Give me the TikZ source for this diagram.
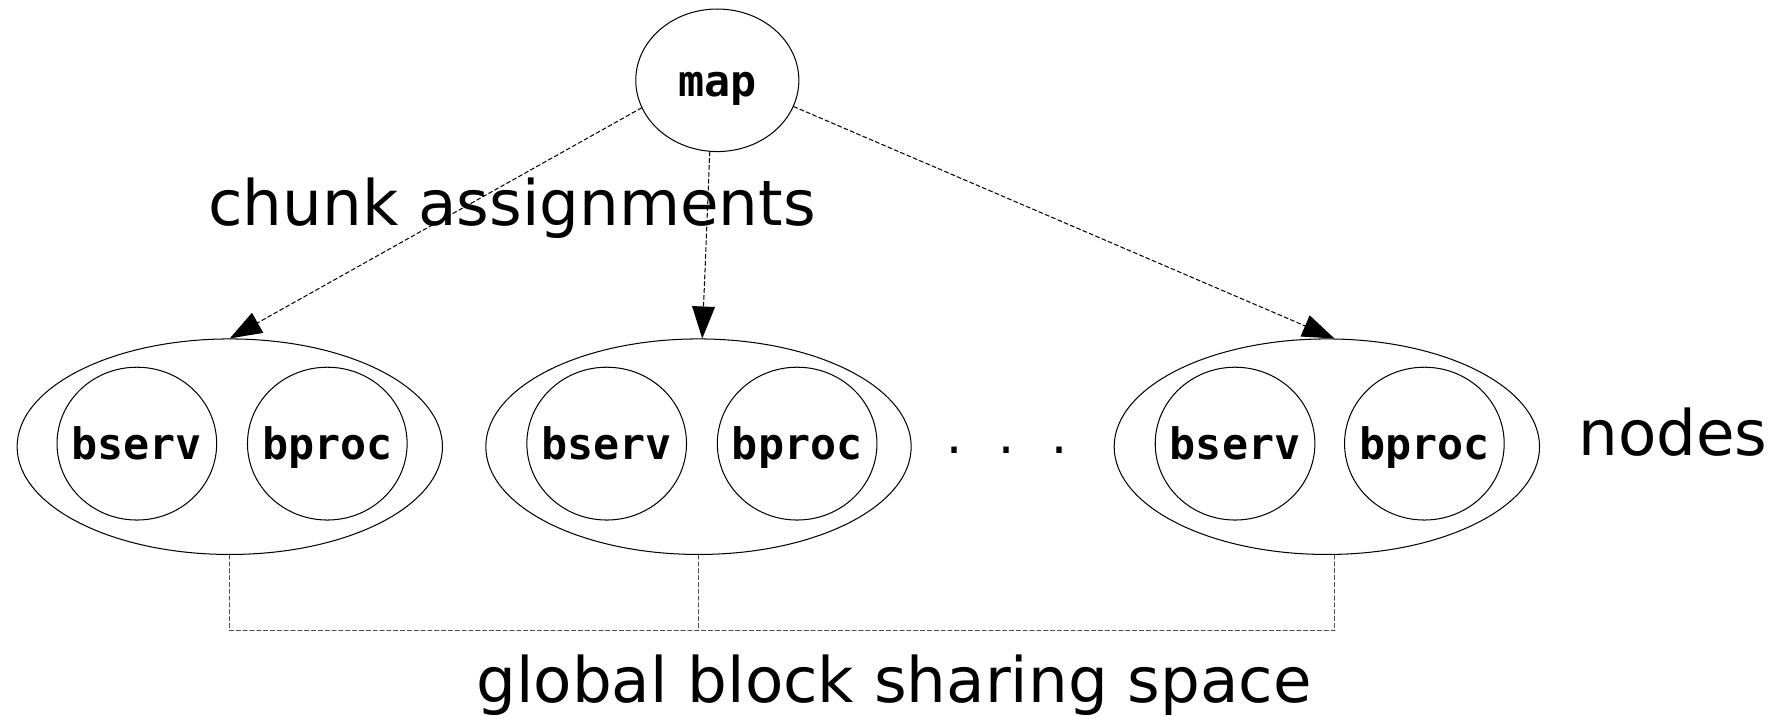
\documentclass[tikz,border=0pt]{standalone}
\usepackage{fontspec}
\setmainfont{DejaVu Sans}
\setmonofont{DejaVu Sans Mono}
\usetikzlibrary{shapes.geometric,arrows.meta}

\newcommand{\ptext}[1]{\makebox[0pt]{#1}}

\begin{document}
\begin{tikzpicture}[line cap=round, line join=round, x=0.5pt, y=-0.5pt,
        proc/.style={draw, ellipse, line width=0.45pt, inner sep=0pt,
            minimum width=70pt, minimum height=67pt, text height=14pt, text depth=0pt,
            font=\fontsize{19}{22}\selectfont\ttfamily\bfseries},
        host/.style={draw, ellipse, line width=0.45pt, inner sep=0pt,
            minimum width=186.5pt, minimum height=94.5pt},
        assign/.style={line width=0.45pt, dash pattern=on 1.8pt off 1.2pt,
            -{Triangle[length=14pt, width=10pt]}},
        share/.style={line width=0.45pt, black!70, dash pattern=on 1.8pt off 1.2pt},
        bigtext/.style={anchor=base, inner sep=0pt, font=\fontsize{27.5}{33}\selectfont}]

    \useasboundingbox (0,0) rectangle (1567,627);

    \node[proc, minimum width=71.5pt, minimum height=62.5pt] (map) at (629,70.4) {\ptext{map}};

    \node[host] (n1) at (201.5,391.7) {};
    \node[proc] (n1s) at (120,389) {\ptext{bserv}};
    \node[proc] (n1p) at (287,389) {\ptext{bproc}};

    \node[host] (n2) at (612.5,391.7) {};
    \node[proc] (n2s) at (532,389) {\ptext{bserv}};
    \node[proc] (n2p) at (699,389) {\ptext{bproc}};

    \node[host] (n3) at (1163.5,391.7) {};
    \node[proc] (n3s) at (1083,389) {\ptext{bserv}};
    \node[proc] (n3p) at (1249,389) {\ptext{bproc}};

    \node[anchor=base, inner sep=0pt, font=\fontsize{19}{22}\selectfont\ttfamily] (dots) at (883,398) {. . .};

    \draw[assign] (map.200) -- (n1.north);
    \draw[assign] (map.264) -- (n2.88);
    \draw[assign] (map.341) -- (n3.86);

    \coordinate (b1) at (201.5,553);
    \coordinate (b3) at (1173,553);
    \draw[share] (n1.south) -- (b1) -- (b3);
    \draw[share] (n2.south) -- (n2.south |- b1);
    \draw[share] (n3.274) -- (n3.274 |- b1);

    \node[bigtext] (chunk) at (449,198) {chunk assignments};
    \node[bigtext] (nodes) at (1467,399) {nodes};
    \node[bigtext] (space) at (784,616) {global block sharing space};

\end{tikzpicture}
\end{document}
